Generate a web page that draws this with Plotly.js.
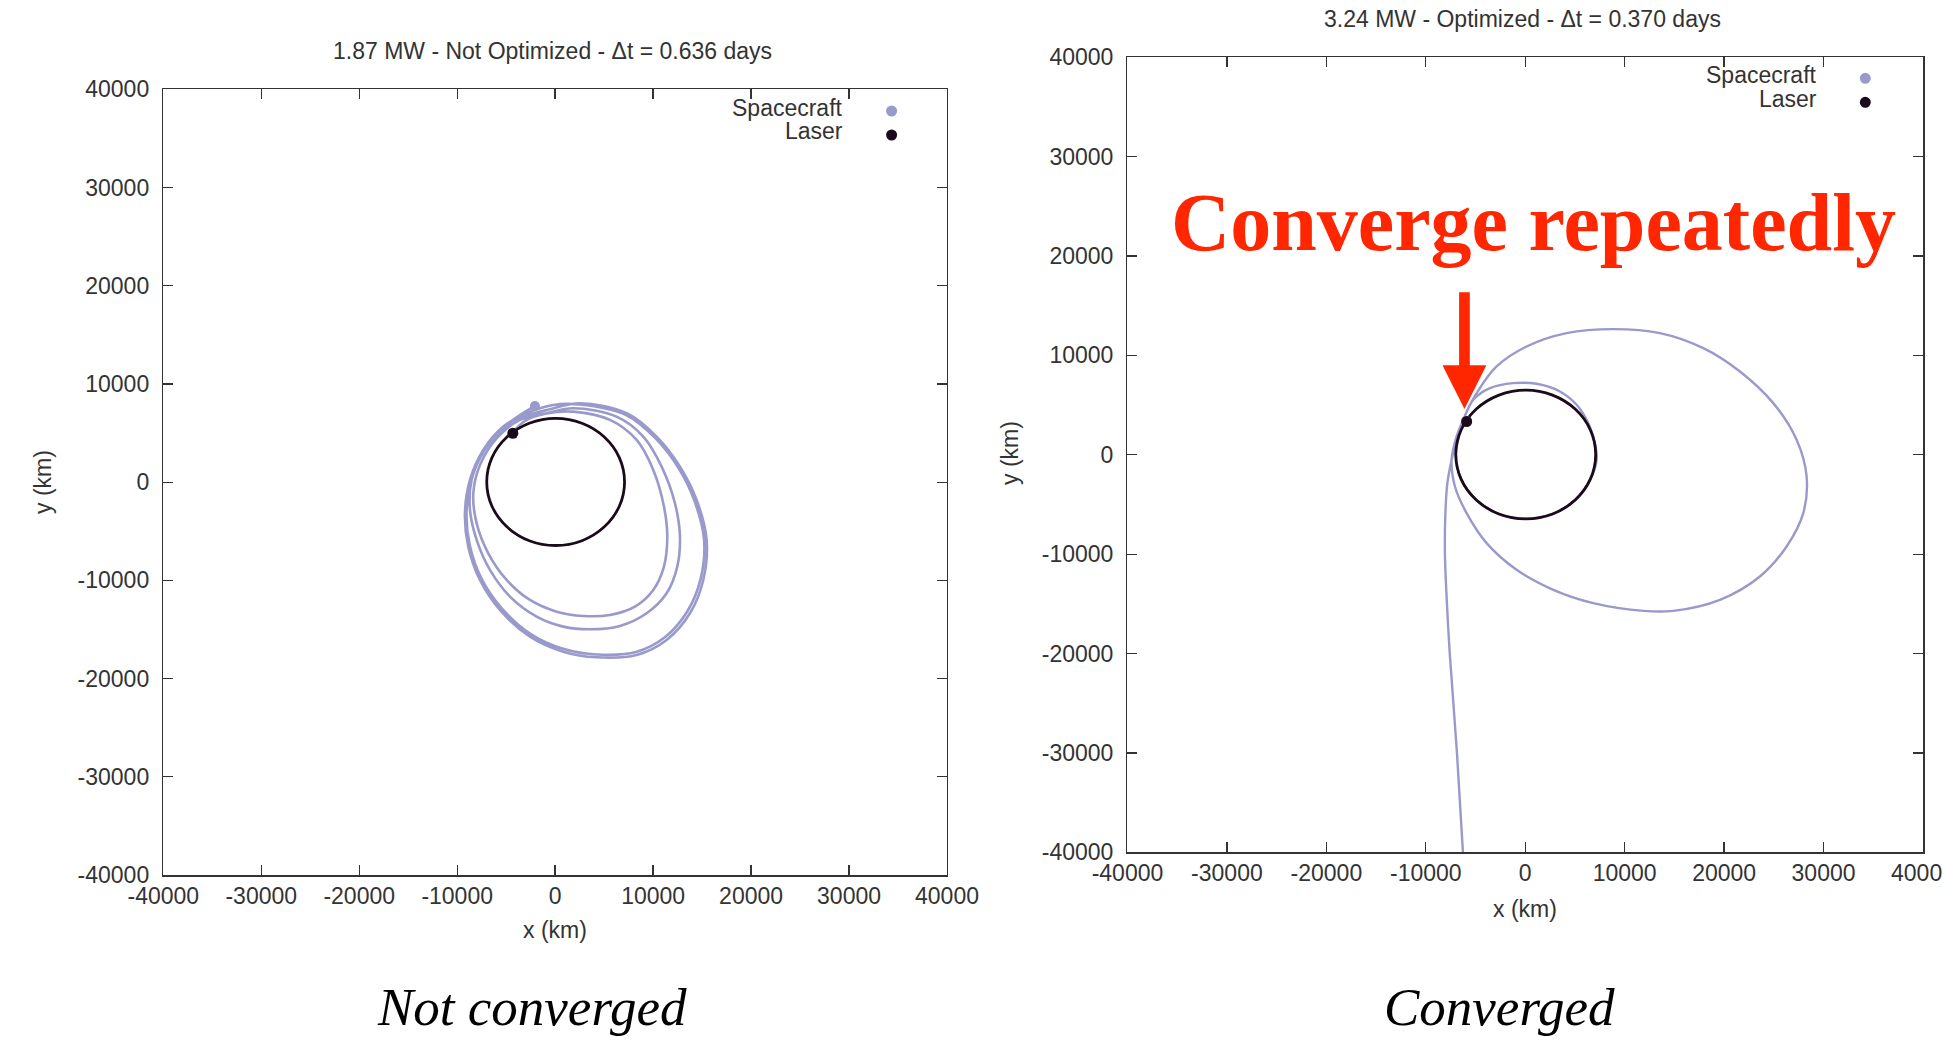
<!DOCTYPE html>
<html>
<head>
<meta charset="utf-8">
<script src="https://cdn.plot.ly/plotly-3.0.1.min.js"></script>
<style>html,body{margin:0;padding:0;background:#fff;}#chart{width:1943px;height:1040px;}</style>
</head>
<body>
<div id="chart"></div>
<script>
// ---------- data (km) ----------
const tickValues = [-40000, -30000, -20000, -10000, 0, 10000, 20000, 30000, 40000];
const tickLabels = ['-40000', '-30000', '-20000', '-10000', '0', '10000', '20000', '30000', '40000'];

// laser orbit (same in both panels)
const laserOrbitX = [7085, 6550, 5020, 2740, 50, -2640, -4920, -6450, -6985, -6450, -4920, -2640, 50, 2740, 5020, 6550, 7085];
const laserOrbitY = [25, 2500, 4600, 6000, 6500, 6000, 4600, 2500, 25, -2450, -4550, -5960, -6450, -5960, -4550, -2450, 25];

// left panel: 1.87 MW, not optimized - spacecraft spiral
const scNotOptX = [-4400, -3000, -900,
  1851, 5594, 8316, 10017, 11106, 11446, 11106, 10017, 8146, 5594, 2872, 150, -2572, -4954, -6826, -8016, -8357, -7676, -5975, -3593, -871,
  1851, 6275, 8997, 10868, 12229, 12740, 12467, 11379, 9337, 6615, 3552, 830, -1892, -4614, -6656, -8016, -8697, -8527, -7336, -5295, -2913, -531,
  2532, 7295, 10358, 12740, 14441, 15462, 15121, 13760, 11379, 8316, 4233, 830, -2572, -5635, -7676, -8867, -9208, -8697, -7336, -5295, -2913, -191,
  2500, 7200, 10200, 12550, 14200, 15200, 14850, 13500, 11200, 8250, 4250, 900, -2450, -5450, -7500, -8700, -9050, -8550, -7200, -5200, -2062];
const scNotOptY = [5000, 6300, 7000,
  7182, 6334, 4297, 1242, -2491, -5546, -8601, -10977, -12675, -13523, -13625, -13184, -11996, -9959, -7243, -4188, -1133, 1751, 4467, 6334, 7013,
  7522, 6673, 4637, 1582, -2152, -5546, -8601, -11317, -13353, -14643, -14983, -14711, -13693, -11656, -8941, -5886, -2831, 224, 3109, 5316, 6741, 7420,
  8031, 7013, 4637, 1582, -1813, -5886, -9959, -13353, -16069, -17596, -17834, -17257, -15730, -13014, -9959, -6565, -3170, 224, 3279, 5655, 7013, 7861,
  7900, 6850, 4500, 1500, -1850, -5850, -9850, -13150, -15800, -17300, -17550, -17000, -15500, -12850, -9850, -6500, -3150, 250, 3300, 5650, 7760];
const scNotOptNowX = [-2062];
const scNotOptNowY = [7760];
const laserNotOptNowX = [-4320];
const laserNotOptNowY = [4980];

// right panel: 3.24 MW, optimized - incoming leg, large loop, then loop hugging the laser orbit
const scOptX = [-6265, -6868, -7592, -7960, -8075, -8050, -7850, -7404, -6900, -6400,
  -5900, -4890, -2879, 138, 4160, 8853, 13545, 17903, 21590, 24942, 27289, 28294, 27959, 26283, 23601, 19579, 14886, 11876, 6841, 2819, -868, -3885, -5896, -7069, -7404, -6901, -6232,
  -5226, -3550, -1203, 1143, 3489, 5165, 6338, 7009, 7177, 6550, 5020, 2740, 50, -2640, -4920, -6450, -6985, -6835, -6232, -5900];
const scOptY = [-40000, -30000, -20000, -13250, -10000, -6500, -3000, -500, 1500, 3100,
  4300, 6206, 8889, 10901, 12243, 12646, 12243, 10734, 8386, 5199, 1509, -2180, -5870, -9224, -12243, -14591, -15700, -15700, -14927, -13585, -11572, -8889, -5870, -3187, -503, 1845, 3500,
  5535, 6709, 7212, 7145, 6373, 5032, 3187, 1174, -503, -2450, -4550, -5960, -6450, -5960, -4550, -2450, 25, 1174, 3187, 3400];
const scOptNowX = [-5900];
const scOptNowY = [3400];
const laserOptNowX = [-5893];
const laserOptNowY = [3351];

// annotation arrow (km): tip and tail
const arrowTip = {x: -6114, y: 4599};
const arrowTail = {x: -6114, y: 16503};

// ---------- styling ----------
const LAV = '#9999cc';
const DARK = '#1a0a1a';
const TXT = '#333333';
const SANS = 'Liberation Sans, Arial, Helvetica, sans-serif';
const SERIF = 'Liberation Serif, Times New Roman, serif';

function axis(domain, anchor, standoff) {
  return {
    domain: domain, anchor: anchor,
    range: [-40000, 40000], autorange: false,
    tickmode: 'array', tickvals: tickValues, ticktext: tickLabels,
    ticks: 'inside', ticklen: 10, tickwidth: 1.3, tickcolor: TXT,
    mirror: 'allticks', showline: true, linecolor: TXT, linewidth: 1.5,
    showgrid: false, zeroline: false,
    tickfont: {family: SANS, size: 23, color: TXT},
    ticklabelstandoff: standoff,
    ticklabeloverflow: 'allow',
    fixedrange: true
  };
}

const traces = [
  {x: scNotOptX, y: scNotOptY, xaxis: 'x', yaxis: 'y', mode: 'lines', line: {color: LAV, width: 2.6, shape: 'spline', smoothing: 1}, name: 'Spacecraft path'},
  {x: laserOrbitX, y: laserOrbitY, xaxis: 'x', yaxis: 'y', mode: 'lines', line: {color: DARK, width: 2.8, shape: 'spline', smoothing: 1}, name: 'Laser orbit'},
  {x: scNotOptNowX, y: scNotOptNowY, xaxis: 'x', yaxis: 'y', mode: 'markers', marker: {color: LAV, size: 10}, name: 'Spacecraft'},
  {x: laserNotOptNowX, y: laserNotOptNowY, xaxis: 'x', yaxis: 'y', mode: 'markers', marker: {color: DARK, size: 11}, name: 'Laser'},

  {x: scOptX, y: scOptY, xaxis: 'x2', yaxis: 'y2', mode: 'lines', line: {color: LAV, width: 2.4, shape: 'spline', smoothing: 1}, name: 'Spacecraft path'},
  {x: laserOrbitX, y: laserOrbitY, xaxis: 'x2', yaxis: 'y2', mode: 'lines', line: {color: DARK, width: 2.8, shape: 'spline', smoothing: 1}, name: 'Laser orbit'},
  {x: scOptNowX, y: scOptNowY, xaxis: 'x2', yaxis: 'y2', mode: 'markers', marker: {color: LAV, size: 10}, name: 'Spacecraft'},
  {x: laserOptNowX, y: laserOptNowY, xaxis: 'x2', yaxis: 'y2', mode: 'markers', marker: {color: DARK, size: 11}, name: 'Laser'}
];

function txt(text, x, y, size, opts) {
  return Object.assign({
    text: text, x: x, y: y, xref: 'paper', yref: 'paper',
    showarrow: false, xanchor: 'center', yanchor: 'middle',
    font: {family: SANS, size: size, color: TXT}
  }, opts || {});
}

const annotations = [
  txt('1.87 MW - Not Optimized - Δt = 0.636 days', 0.2841, 0.951, 23),
  txt('3.24 MW - Optimized - Δt = 0.370 days', 0.7836, 0.9817, 23),
  txt('x (km)', 0.2856, 0.1058, 23),
  txt('x (km)', 0.7849, 0.1260, 23),
  txt('y (km)', 0.0221, 0.5365, 23, {textangle: -90}),
  txt('y (km)', 0.5198, 0.5644, 23, {textangle: -90}),
  txt('Spacecraft', 0.4349, 0.8966, 23, {xanchor: 'right'}),
  txt('Laser', 0.4349, 0.8736, 23, {xanchor: 'right'}),
  txt('Spacecraft', 0.93634, 0.92788, 23, {xanchor: 'right'}),
  txt('Laser', 0.93634, 0.90462, 23, {xanchor: 'right'}),
  {text: '<b>Converge repeatedly</b>', x: 0.7895, y: 0.7857, xref: 'paper', yref: 'paper', showarrow: false,
   xanchor: 'center', yanchor: 'middle', font: {family: SERIF, size: 82, color: '#ff2600'}},
  {text: '', x: arrowTip.x, y: arrowTip.y, xref: 'x2', yref: 'y2', axref: 'x2', ayref: 'y2',
   ax: arrowTail.x, ay: arrowTail.y, showarrow: true, arrowhead: 2, arrowwidth: 10.7, arrowsize: 0.82,
   arrowcolor: '#ff2600', standoff: 0},
  {text: '<i>Not converged</i>', x: 0.2738, y: 0.0318, xref: 'paper', yref: 'paper', showarrow: false,
   xanchor: 'center', yanchor: 'middle', font: {family: SERIF, size: 53, color: '#000'}},
  {text: '<i>Converged</i>', x: 0.7720, y: 0.0318, xref: 'paper', yref: 'paper', showarrow: false,
   xanchor: 'center', yanchor: 'middle', font: {family: SERIF, size: 53, color: '#000'}}
];

function dot(cx, cy, color) {
  const r = 5.5;
  return {type: 'circle', xref: 'paper', yref: 'paper',
    x0: (cx - r) / 1943, x1: (cx + r) / 1943, y0: 1 - (cy + r) / 1040, y1: 1 - (cy - r) / 1040,
    fillcolor: color, line: {width: 0}};
}

const layout = {
  width: 1943, height: 1040,
  margin: {l: 0, r: 0, t: 0, b: 0},
  paper_bgcolor: '#fff', plot_bgcolor: '#fff',
  showlegend: false,
  xaxis: axis([0.08405, 0.48739], 'y', 0),
  yaxis: axis([0.15865, 0.91413], 'x', 8),
  xaxis2: axis([0.58028, 0.98971], 'y2', 0),
  yaxis2: axis([0.18048, 0.94490], 'x2', 8),
  annotations: annotations,
  shapes: [dot(891.6, 111, LAV), dot(891.6, 135, DARK), dot(1865.3, 78.3, LAV), dot(1865.3, 102.3, DARK)]
};

Plotly.newPlot('chart', traces, layout, {staticPlot: true, displayModeBar: false});
</script>
</body>
</html>
